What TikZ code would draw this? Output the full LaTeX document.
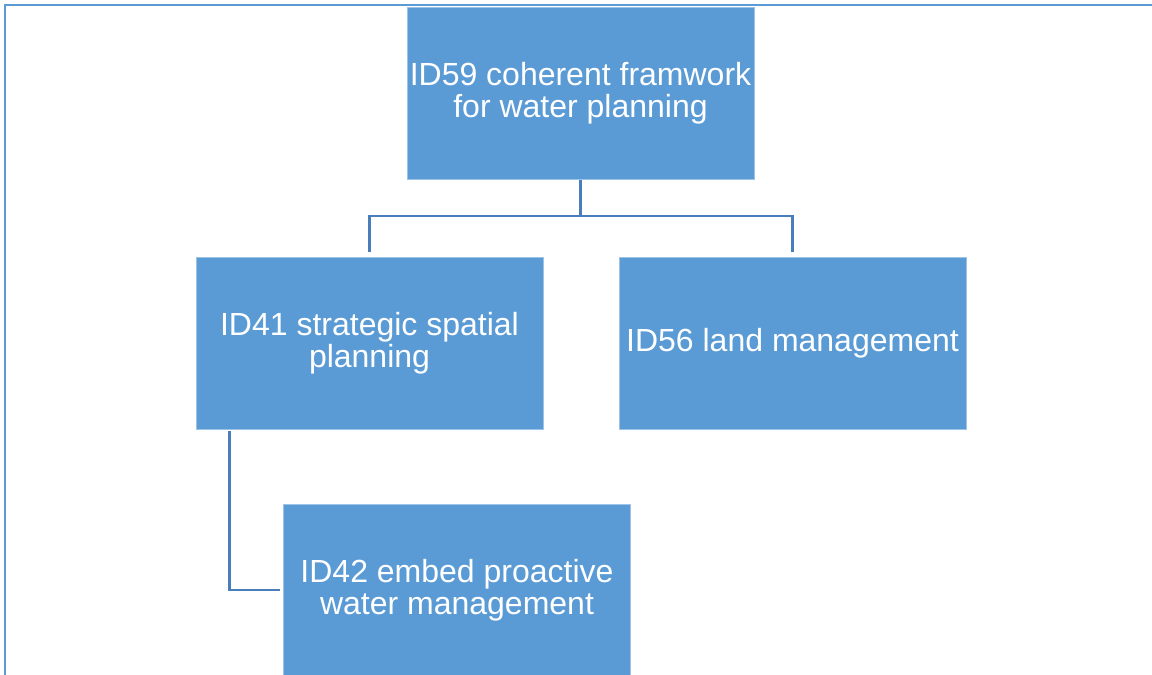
\documentclass[tikz,border=0pt]{standalone}
\usepackage{fontspec}
\setmainfont{Liberation Sans}
\usetikzlibrary{positioning}

\definecolor{boxblue}{HTML}{5B9BD5}
\definecolor{lineblue}{HTML}{4A7EBB}

\tikzset{
  task/.style={rectangle, fill=boxblue, draw=boxblue!60!white, line width=0.8pt,
               minimum width=347pt, minimum height=172pt, inner sep=0pt,
               text=white, align=center, font=\fontsize{32}{32}\selectfont},
  conn/.style={draw=lineblue, line width=2.2pt},
  frame/.style={draw=boxblue, line width=2.6pt}
}

\begin{document}
\begin{tikzpicture}[x=1pt,y=-1pt]

   \useasboundingbox (0,0) rectangle (1152,675);

   % Frame
      \draw[frame] (1170,5) -- (5,5) -- (5,690);

   % Nodes
      \node[task]  (id59)  at (580.5,93.5)  {ID59 coherent framwork\\for water planning};
      \node[task]  (id41)  at (369.5,343.5) {ID41 strategic spatial\\planning};
      \node[task]  (id56)  at (792.5,343.5) {ID56 land management};
      \node[task]  (id42)  at (457,590)     {ID42 embed proactive\\water management};

   % Ends
      \coordinate (bus)  at (580.5,216);
      \coordinate (j41)  at (369.5,252);
      \coordinate (j56)  at (792.5,252);
      \coordinate (t41)  at (229.5,431);
      \coordinate (e42)  at (280,590);

   % Paths
      \path[conn] (id59.south) -- (bus);
      \path[conn] (j41) |- (bus) -| (j56);
      \path[conn] (t41) |- (e42);

\end{tikzpicture}
\end{document}
